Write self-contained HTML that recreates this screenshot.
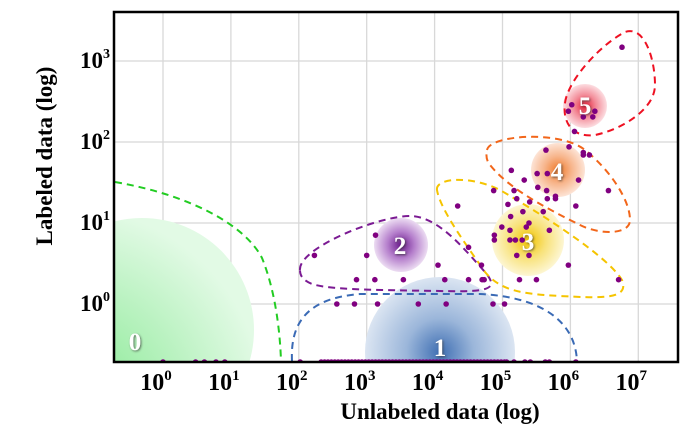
<!DOCTYPE html>
<html><head><meta charset="utf-8"><style>
body{margin:0;background:#fff;width:689px;height:442px;overflow:hidden}
svg text{font-family:"Liberation Serif",serif;font-weight:bold}
</style></head><body>
<svg width="689" height="442" viewBox="0 0 689 442">
<defs>
<radialGradient id="g0" cx="0.15" cy="0.85" r="0.9"><stop offset="0" stop-color="#7de88a"/><stop offset="0.6" stop-color="#b9f2c0"/><stop offset="1" stop-color="#e2fae5"/></radialGradient>
<radialGradient id="g1"><stop offset="0" stop-color="#3f6fb3"/><stop offset="0.45" stop-color="#9bb6da"/><stop offset="1" stop-color="#dbe5f2"/></radialGradient>
<radialGradient id="g2"><stop offset="0" stop-color="#6a1a8c"/><stop offset="0.5" stop-color="#b57fcc"/><stop offset="1" stop-color="#ecdcf2"/></radialGradient>
<radialGradient id="g3"><stop offset="0" stop-color="#f2c400"/><stop offset="0.5" stop-color="#f8e27a"/><stop offset="1" stop-color="#fdf6d3"/></radialGradient>
<radialGradient id="g4"><stop offset="0" stop-color="#f07a2a"/><stop offset="0.5" stop-color="#f7b48a"/><stop offset="1" stop-color="#fde4d6"/></radialGradient>
<radialGradient id="g5"><stop offset="0" stop-color="#e8203a"/><stop offset="0.5" stop-color="#f38b98"/><stop offset="1" stop-color="#fcdde1"/></radialGradient>
<clipPath id="clip"><rect x="114" y="12" width="564" height="350"/></clipPath>
<filter id="sh"><feDropShadow dx="1" dy="1" stdDeviation="1" flood-color="#333" flood-opacity="0.7"/></filter>
</defs>
<g id="grid"></g>
<g clip-path="url(#clip)" id="bubbles">
<circle cx="142" cy="330" r="112" fill="url(#g0)"/>
<circle cx="440" cy="352" r="75" fill="url(#g1)"/>
<ellipse cx="401" cy="245" rx="27" ry="27" fill="url(#g2)"/>
<circle cx="528" cy="240" r="36" fill="url(#g3)"/>
<circle cx="558" cy="170" r="27" fill="url(#g4)"/>
<circle cx="585" cy="106" r="22" fill="url(#g5)"/>
</g>
<g clip-path="url(#clip)" fill="none" stroke-width="2" stroke-dasharray="7,5">
<path d="M115,182 C190,195 245,225 262,258 C275,290 280,330 281,361" stroke="#22cc22"/>
<path d="M292,361 C290,320 310,298 360,294 L480,294 C540,297 575,320 577,361" stroke="#3a6ab5"/>
<path d="M300,270 C298,248 380,215 412,216 C440,218 465,250 485,272 C500,290 488,292 440,291 C380,290 330,290 312,284 C302,280 300,275 300,270 Z" stroke="#7b1a93"/>
<path d="M437,190 C435,178 470,175 500,190 C560,225 610,260 622,280 C630,300 600,298 560,296 C520,294 500,290 485,272 C470,250 440,210 437,190 Z" stroke="#f5c400"/>
<path d="M487,150 C490,135 560,130 585,150 C610,170 630,200 630,220 C630,235 600,235 580,225 C550,210 510,190 490,165 C486,160 486,155 487,150 Z" stroke="#f2661a"/>
<path d="M565,103 C568,80 600,45 625,32 C645,25 655,60 655,85 C655,110 620,130 595,135 C575,138 562,125 565,103 Z" stroke="#ee1122"/>
</g>
<g id="pts" clip-path="url(#clip)"></g>
<g fill="#fff" font-size="25" filter="url(#sh)" text-anchor="middle">
<text x="135" y="350">0</text>
<text x="440" y="356">1</text>
<text x="400" y="254">2</text>
<text x="528" y="250">3</text>
<text x="557" y="180">4</text>
<text x="585" y="114">5</text>
</g>
<rect x="114" y="12" width="564" height="350" fill="none" stroke="#000" stroke-width="2.5"/>
<g id="ticks"></g>
<text x="440" y="419" font-size="23" text-anchor="middle">Unlabeled data (log)</text>
<text transform="translate(52,156) rotate(-90)" font-size="23" text-anchor="middle">Labeled data (log)</text>
</svg>
<script>
const xTicks=[0,1,2,3,4,5,6,7];
const yTicks=[0,1,2,3];
// log10 unlabeled, log10 labeled (null = zero labeled, drawn on bottom axis)
const ptX=[0,0.48,0.61,0.78,0.91,2.02,2.33,2.38,2.43,2.48,2.53,2.58,2.63,2.68,2.73,2.78,2.83,2.88,2.93,2.98,3.03,3.08,3.13,3.18,3.23,3.28,3.33,3.38,3.43,3.48,3.53,3.58,3.63,3.68,3.73,3.78,3.83,3.88,3.93,3.98,4.03,4.08,4.13,4.18,4.23,4.28,4.33,4.38,4.43,4.48,4.53,4.58,4.63,4.68,4.73,4.78,4.83,4.88,4.93,4.98,5.03,5.06,5.17,5.33,5.41,5.63,5.69,6.08,
2.56,2.82,3.16,3.76,4.17,4.86,5.03,
2.85,3.12,3.54,4.15,4.5,4.7,4.73,5.25,5.5,6.71,
4.05,4.69,5.97,2.23,3.0,5.21,5.39,4.5,5.11,5.19,5.29,4.88,3.13,4.88,5.11,5.69,4.99,5.35,5.39,5.12,5.3,5.6,4.34,6.08,5.08,5.4,5.21,5.66,5.78,5.78,4.87,5.17,5.65,6.56,5.52,5.32,6.12,5.51,5.66,5.13,6.19,6.28,6.19,5.64,5.98,6.06,6.19,6.33,5.97,6.36,6.02,6.76];
const ptY=[];
for(let i=0;i<68;i++)ptY.push(null);
const ptYRest=[0,0,0,0,0,0,0,
0.3,0.3,0.3,0.3,0.3,0.3,0.3,0.3,0.3,0.3,
0.48,0.48,0.48,0.6,0.6,0.6,0.6,0.7,0.79,0.79,0.79,0.79,0.85,0.85,0.91,0.91,0.95,0.95,1.0,1.08,1.14,1.14,1.21,1.21,1.23,1.26,1.3,1.3,1.3,1.33,1.4,1.4,1.4,1.4,1.44,1.53,1.53,1.61,1.61,1.65,1.84,1.84,1.87,1.9,1.94,2.13,2.31,2.31,2.38,2.38,2.46,3.17];
ptYRest.forEach(v=>ptY.push(v));
const NS='http://www.w3.org/2000/svg';
const X0=163,DX=67.9,Y0=304,DY=81,L=114,R=678,T=12,B=362;
function sx(v){return X0+v*DX;}
function sy(v){return v===null?B:Y0-v*DY;}
const grid=document.getElementById('grid'),tk=document.getElementById('ticks'),pts=document.getElementById('pts');
xTicks.forEach(v=>{const l=document.createElementNS(NS,'line');


l.setAttribute('x1',sx(v));l.setAttribute('x2',sx(v));l.setAttribute('y1',T);l.setAttribute('y2',B);l.setAttribute('stroke','#d8d8d8');l.setAttribute('stroke-width','1.3');grid.appendChild(l);
const t=document.createElementNS(NS,'text');


t.setAttribute('x',sx(v)-7);t.setAttribute('y',390);t.setAttribute('font-size','24');t.setAttribute('text-anchor','middle');
t.innerHTML='10<tspan font-size="15" dy="-10">'+v+'</tspan>';tk.appendChild(t);});
yTicks.forEach(v=>{const l=document.createElementNS(NS,'line');


l.setAttribute('x1',L);l.setAttribute('x2',R);l.setAttribute('y1',sy(v));l.setAttribute('y2',sy(v));l.setAttribute('stroke','#d8d8d8');l.setAttribute('stroke-width','1.3');grid.appendChild(l);
const t=document.createElementNS(NS,'text');


t.setAttribute('x',110);t.setAttribute('y',sy(v)+7);t.setAttribute('font-size','23');t.setAttribute('text-anchor','end');
t.innerHTML='10<tspan font-size="14" dy="-10">'+v+'</tspan>';tk.appendChild(t);});
ptX.forEach((v,i)=>{const c=document.createElementNS(NS,'circle');


c.setAttribute('cx',sx(v));c.setAttribute('cy',sy(ptY[i]));c.setAttribute('r',2.8);c.setAttribute('fill','#800080');pts.appendChild(c);});
</script>
</body></html>
